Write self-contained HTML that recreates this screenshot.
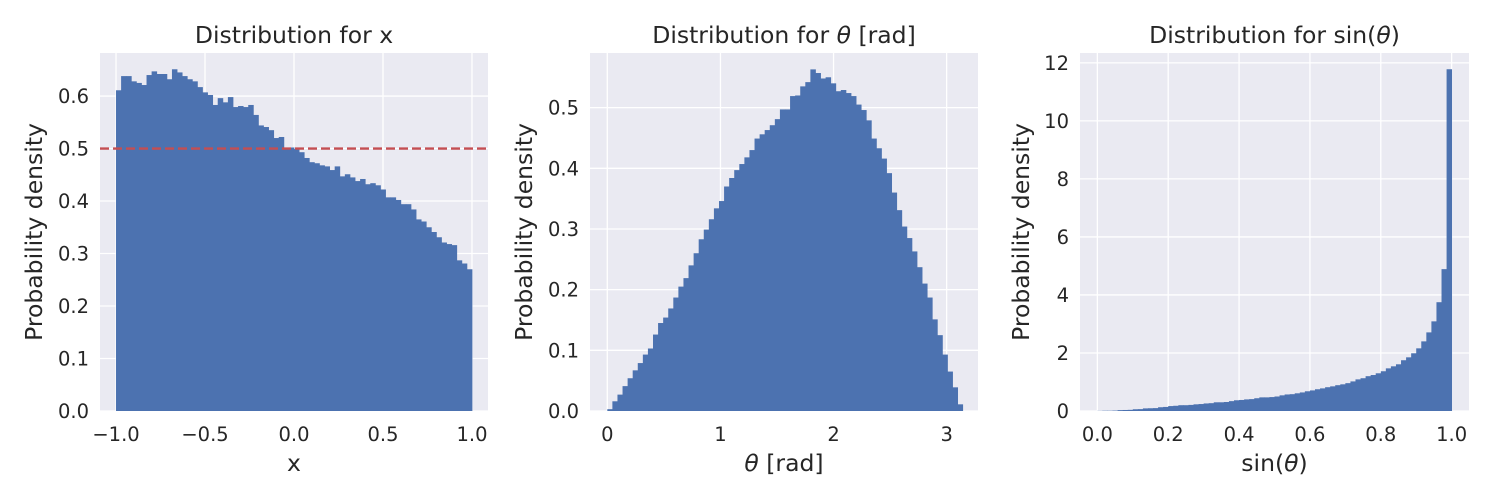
<!DOCTYPE html>
<html><head><meta charset="utf-8"><style>
html,body{margin:0;padding:0;background:#fff}
svg{display:block;font-family:"DejaVu Sans","Liberation Sans",sans-serif}
</style></head><body>
<svg id="fig" width="1500" height="500" viewBox="0 0 1500 500"></svg>
<script>
// Panel 1 data: x distribution (70 bins from -1 to 1)
const xBinMin = -1.0, xBinMax = 1.0;
const xDensity = [0.611,0.638,0.638,0.628,0.625,0.621,0.640,0.647,0.642,0.642,0.632,0.651,0.645,0.638,0.632,0.628,0.617,0.607,0.602,0.583,0.596,0.588,0.598,0.579,0.581,0.579,0.583,0.564,0.544,0.541,0.535,0.520,0.522,0.501,0.502,0.499,0.493,0.482,0.474,0.472,0.468,0.466,0.459,0.466,0.447,0.451,0.445,0.438,0.442,0.432,0.434,0.430,0.422,0.407,0.407,0.402,0.394,0.394,0.384,0.365,0.361,0.350,0.341,0.331,0.321,0.318,0.316,0.287,0.281,0.270];
const xRefLine = 0.5;
const xTicksX = [-1.0,-0.5,0.0,0.5,1.0];
const xTicksXLabels = ["\u22121.0","\u22120.5","0.0","0.5","1.0"];
const xTicksY = [0,0.1,0.2,0.3,0.4,0.5,0.6];
const xTicksYLabels = ["0.0","0.1","0.2","0.3","0.4","0.5","0.6"];

// Panel 2 data: theta distribution (70 bins from 0 to pi)
const tBinMin = 0.0, tBinMax = 3.1416;
const tDensity = [0.003,0.016,0.027,0.041,0.054,0.067,0.079,0.093,0.103,0.126,0.145,0.154,0.169,0.187,0.205,0.219,0.240,0.260,0.283,0.299,0.316,0.334,0.346,0.370,0.384,0.397,0.407,0.418,0.430,0.449,0.456,0.463,0.471,0.481,0.497,0.497,0.519,0.520,0.535,0.542,0.563,0.557,0.548,0.550,0.540,0.527,0.529,0.524,0.519,0.505,0.496,0.479,0.449,0.433,0.416,0.392,0.360,0.331,0.304,0.285,0.263,0.237,0.210,0.187,0.151,0.125,0.093,0.065,0.039,0.011];
const tTicksX = [0,1,2,3];
const tTicksXLabels = ["0","1","2","3"];
const tTicksY = [0,0.1,0.2,0.3,0.4,0.5];
const tTicksYLabels = ["0.0","0.1","0.2","0.3","0.4","0.5"];

// Panel 3 data: sin(theta) distribution (70 bins from 0 to 1)
const sBinMin = 0.0, sBinMax = 1.0;
const sDensity = [0.005,0.01,0.01,0.015,0.03,0.035,0.04,0.06,0.065,0.09,0.095,0.1,0.13,0.14,0.17,0.18,0.2,0.2,0.21,0.23,0.24,0.26,0.27,0.3,0.3,0.31,0.34,0.37,0.38,0.4,0.41,0.44,0.47,0.47,0.48,0.5,0.54,0.57,0.58,0.61,0.64,0.68,0.71,0.75,0.78,0.82,0.85,0.89,0.92,0.96,1.02,1.09,1.13,1.2,1.24,1.3,1.37,1.47,1.54,1.61,1.75,1.85,1.99,2.16,2.4,2.71,3.09,3.75,4.89,11.78];
const sTicksX = [0,0.2,0.4,0.6,0.8,1.0];
const sTicksXLabels = ["0.0","0.2","0.4","0.6","0.8","1.0"];
const sTicksY = [0,2,4,6,8,10,12];
const sTicksYLabels = ["0","2","4","6","8","10","12"];

const NS = "http://www.w3.org/2000/svg";
const fig = document.getElementById('fig');
function mk(tag, attrs, parent){
  const e = document.createElementNS(NS, tag);
  for (const k in attrs) e.setAttribute(k, attrs[k]);
  (parent||fig).appendChild(e);
  return e;
}

function panel(cfg){
  const g = mk('g', {});
  
  
  const L = cfg.left, R = cfg.right, T = 53, B = 411;
  const sx = v => L + (v - cfg.xmin) / (cfg.xmax - cfg.xmin) * (R - L);
  const sy = v => B - (v - cfg.ymin) / (cfg.ymax - cfg.ymin) * (B - T);
  const bg = mk('rect', {x:L, y:T, width:R-L, height:B-T, fill:'#EAEAF2'}, g);
  
  
  cfg.ticksX.forEach((v, i) => {
    const ln = mk('line', {x1:sx(v), x2:sx(v), y1:T, y2:B, stroke:'#fff', 'stroke-width':1.3}, g);
    
    
    const t = mk('text', {x:sx(v), y:441, 'font-size':19.5, fill:'#262626', 'text-anchor':'middle'}, g);
    t.textContent = cfg.labelsX[i];
    
    
  });
  cfg.ticksY.forEach((v, i) => {
    const ln = mk('line', {x1:L, x2:R, y1:sy(v), y2:sy(v), stroke:'#fff', 'stroke-width':1.3}, g);
    
    
    const t = mk('text', {x:L-11, y:sy(v)+7, 'font-size':19.5, fill:'#262626', 'text-anchor':'end'}, g);
    t.textContent = cfg.labelsY[i];
    
    
  });
  const n = cfg.data.length, w = (cfg.binMax - cfg.binMin) / n;
  cfg.data.forEach((v, i) => {
    const x0 = sx(cfg.binMin + i*w), x1 = sx(cfg.binMin + (i+1)*w);
    const r = mk('rect', {x:x0, y:sy(v), width:(x1-x0)+0.4, height:B - sy(v), fill:'#4C72B0'}, g);
    
    
  });
  if (cfg.refLine !== undefined){
    const ln = mk('line', {x1:L, x2:R, y1:sy(cfg.refLine), y2:sy(cfg.refLine), stroke:'#C44E52', 'stroke-width':2.4, 'stroke-dasharray':'9,4'}, g);
    
    
  }
  const tt = mk('text', {x:(L+R)/2, y:43, 'font-size':23.5, fill:'#262626', 'text-anchor':'middle'}, g);
  tt.innerHTML = cfg.title;
  
  
  const xl = mk('text', {x:(L+R)/2, y:471, 'font-size':23.5, fill:'#262626', 'text-anchor':'middle'}, g);
  xl.innerHTML = cfg.xlabel;
  
  
  const yl = mk('text', {x:0, y:0, 'font-size':23.5, fill:'#262626', 'text-anchor':'middle', transform:`translate(${cfg.ylabelX},${(T+B)/2}) rotate(-90)`}, g);
  yl.textContent = 'Probability density';
  
  
}

panel({name:'x-distribution-panel', left:100, right:488, xmin:-1.09, xmax:1.09, ymin:0, ymax:0.682,
  data:xDensity, binMin:xBinMin, binMax:xBinMax, refLine:xRefLine,
  ticksX:xTicksX, labelsX:xTicksXLabels, ticksY:xTicksY, labelsY:xTicksYLabels,
  title:'Distribution for x', xlabel:'x', ylabelX:42});
panel({name:'theta-distribution-panel', left:590, right:978, xmin:-0.153, xmax:3.277, ymin:0, ymax:0.59,
  data:tDensity, binMin:tBinMin, binMax:tBinMax,
  ticksX:tTicksX, labelsX:tTicksXLabels, ticksY:tTicksY, labelsY:tTicksYLabels,
  title:'Distribution for <tspan font-style="italic">θ</tspan> [rad]', xlabel:'<tspan font-style="italic">θ</tspan> [rad]', ylabelX:532});
panel({name:'sin-theta-distribution-panel', left:1080, right:1469, xmin:-0.049, xmax:1.049, ymin:0, ymax:12.34,
  data:sDensity, binMin:sBinMin, binMax:sBinMax,
  ticksX:sTicksX, labelsX:sTicksXLabels, ticksY:sTicksY, labelsY:sTicksYLabels,
  title:'Distribution for sin(<tspan font-style="italic">θ</tspan>)', xlabel:'sin(<tspan font-style="italic">θ</tspan>)', ylabelX:1029});
</script>
</body></html>
